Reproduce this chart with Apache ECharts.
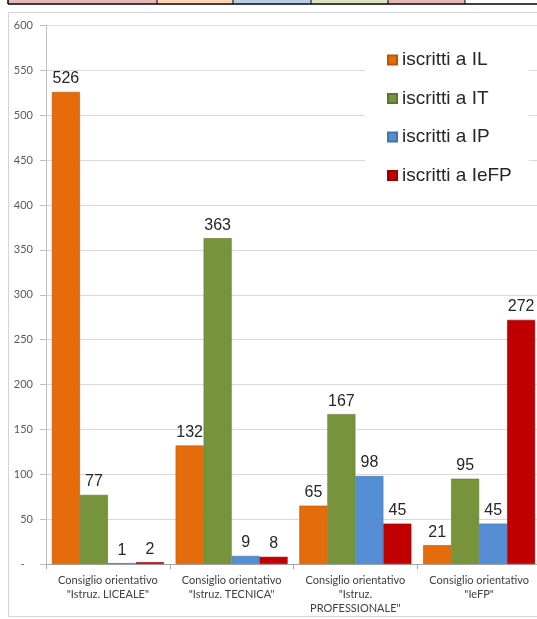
<!DOCTYPE html>
<html>
<head>
<meta charset="utf-8">
<script src="https://cdn.jsdelivr.net/npm/echarts@6/dist/echarts.min.js"></script>
<style>
html,body{margin:0;padding:0;background:#fff;}
#chart{width:537px;height:619px;}
</style>
</head>
<body>
<div id="chart"></div>
<script>
// ---- data ----
const categories = [
  'Consiglio orientativo\n"Istruz. LICEALE"',
  'Consiglio orientativo\n"Istruz. TECNICA"',
  'Consiglio orientativo\n"Istruz.\nPROFESSIONALE"',
  'Consiglio orientativo\n"IeFP"'
];
const seriesNames = ['iscritti a IL', 'iscritti a IT', 'iscritti a IP', 'iscritti a IeFP'];
const iscrittiIL = [526, 132, 65, 21];
const iscrittiIT = [77, 363, 167, 95];
const iscrittiIP = [1, 9, 98, 45];
const iscrittiIeFP = [2, 8, 45, 272];
const yMin = 0, yMax = 600, yStep = 50;
const zeroTickLabel = '-';

const colors = ['#E46C0A', '#77933C', '#558ED5', '#C00000'];
const borders = ['#B85608', '#5E7530', '#4472AA', '#9A0000'];
const values = [iscrittiIL, iscrittiIT, iscrittiIP, iscrittiIeFP];

const chart = echarts.init(document.getElementById('chart'), null, {renderer: 'canvas'});

const series = seriesNames.map((name, i) => ({
  name: name,
  type: 'bar',
  data: values[i],
  barWidth: 28,
  barGap: '0%',
  itemStyle: {color: colors[i], borderColor: borders[i], borderWidth: 0.6},
  label: {
    show: true,
    position: 'top',
    distance: 5,
    fontFamily: 'Liberation Sans, Arial, sans-serif',
    fontSize: 16,
    color: '#262626'
  }
}));

const option = {
  animation: false,
  backgroundColor: '#fff',
  color: colors,
  graphic: [
    {type: 'rect', shape: {x: 8, y: 0, width: 149, height: 3.5}, style: {fill: '#E6B9B8'}, silent: true},
    {type: 'rect', shape: {x: 157, y: 0, width: 76, height: 3.5}, style: {fill: '#FCD5B5'}, silent: true},
    {type: 'rect', shape: {x: 233, y: 0, width: 78, height: 3.5}, style: {fill: '#B9CDE5'}, silent: true},
    {type: 'rect', shape: {x: 311, y: 0, width: 77, height: 3.5}, style: {fill: '#D7E4BD'}, silent: true},
    {type: 'rect', shape: {x: 388, y: 0, width: 77, height: 3.5}, style: {fill: '#E6B9B8'}, silent: true},
    {type: 'line', shape: {x1: 8, y1: 4, x2: 537, y2: 4}, style: {stroke: '#000', lineWidth: 1.5}, silent: true},
    {type: 'line', shape: {x1: 8, y1: 0, x2: 8, y2: 4}, style: {stroke: '#000', lineWidth: 1.5}, silent: true},
    {type: 'line', shape: {x1: 157, y1: 0, x2: 157, y2: 4}, style: {stroke: '#000', lineWidth: 1}, silent: true},
    {type: 'line', shape: {x1: 233, y1: 0, x2: 233, y2: 4}, style: {stroke: '#000', lineWidth: 1}, silent: true},
    {type: 'line', shape: {x1: 311, y1: 0, x2: 311, y2: 4}, style: {stroke: '#000', lineWidth: 1}, silent: true},
    {type: 'line', shape: {x1: 388, y1: 0, x2: 388, y2: 4}, style: {stroke: '#000', lineWidth: 1}, silent: true},
    {type: 'line', shape: {x1: 465, y1: 0, x2: 465, y2: 4}, style: {stroke: '#000', lineWidth: 1}, silent: true},
    {type: 'rect', shape: {x: 8.5, y: 12.5, width: 540, height: 604}, style: {fill: 'none', stroke: '#D4D4D4', lineWidth: 1}, silent: true, z: -1}
  ],
  legend: {
    orient: 'vertical',
    left: 365,
    top: 28,
    padding: [22, 17, 12, 22],
    backgroundColor: '#fff',
    itemWidth: 9,
    itemHeight: 9,
    itemGap: 18.5,
    icon: 'rect',
    data: seriesNames,
    textStyle: {fontFamily: 'Liberation Sans, Arial, sans-serif', fontSize: 19, lineHeight: 20, color: '#262626'}
  },
  grid: {left: 46, top: 25.5, width: 495, height: 538.5, containLabel: false, outerBoundsMode: 'none'},
  xAxis: {
    type: 'category',
    data: categories,
    axisLine: {lineStyle: {color: '#A6A6A6', width: 1}},
    axisTick: {show: true, length: 5, lineStyle: {color: '#A6A6A6'}},
    axisLabel: {
      fontFamily: 'Lato, sans-serif',
      fontSize: 11,
      lineHeight: 14,
      color: '#404040',
      margin: 9,
      interval: 0
    }
  },
  yAxis: {
    type: 'value',
    min: yMin,
    max: yMax,
    interval: yStep,
    axisLine: {show: true, lineStyle: {color: '#BFBFBF'}},
    axisTick: {show: true, length: 6, lineStyle: {color: '#BFBFBF'}},
    splitLine: {lineStyle: {color: '#D9D9D9', width: 1}},
    axisLabel: {
      fontFamily: 'Lato, sans-serif',
      fontSize: 11,
      color: '#595959',
      margin: 13,
      formatter: v => v === 0 ? zeroTickLabel + '   ' : String(v)
    }
  },
  series: series
};
chart.setOption(option);
</script>
</body>
</html>
